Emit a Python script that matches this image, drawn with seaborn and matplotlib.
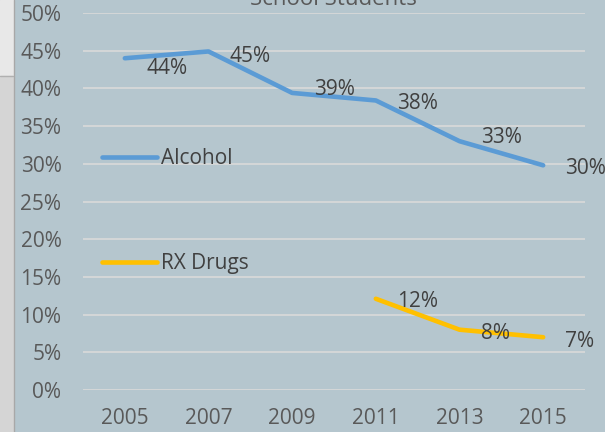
import pandas as pd
import seaborn as sns
import matplotlib.pyplot as plt
from matplotlib.lines import Line2D
from matplotlib.patches import Rectangle
from matplotlib.ticker import PercentFormatter

# values (percent)
years = [2005, 2007, 2009, 2011, 2013, 2015]
alcohol = [44.0, 44.9, 39.4, 38.4, 33.0, 29.8]
rx_years = [2011, 2013, 2015]
rx_drugs = [12.1, 8.0, 7.0]
series_names = ['Alcohol', 'RX Drugs']

# label nudges (pixels, up is positive) to match where the labels sit
alcohol_nudge = [-8, -3, 5, -1, 6, -1]
rx_nudge = [-1, -2, -2]

df = pd.concat([
    pd.DataFrame({'Year': years, 'Value': alcohol, 'Series': series_names[0]}),
    pd.DataFrame({'Year': rx_years, 'Value': rx_drugs, 'Series': series_names[1]}),
])

bg = '#b5c6ce'
colors = {'Alcohol': '#5b9bd5', 'RX Drugs': '#ffc000'}

sns.set_theme(style='whitegrid', rc={'axes.facecolor': bg, 'figure.facecolor': bg,
                                     'grid.color': '#dadada', 'grid.linewidth': 1.2})
plt.rcParams['font.family'] = ['Open Sans', 'DejaVu Sans']

fig = plt.figure(figsize=(6.05, 4.32), dpi=100)
ax = fig.add_axes([83 / 605, 1 - 390 / 432, 502 / 605, 377 / 432])

sns.lineplot(data=df, x='Year', y='Value', hue='Series', palette=colors,
             linewidth=3.3, legend=False, ax=ax, solid_capstyle='round')

ax.set_xlim(2004, 2016)
ax.set_ylim(0, 50)
ax.set_xticks(years)
ax.set_yticks(range(0, 51, 5))
ax.yaxis.set_major_formatter(PercentFormatter(decimals=0))
ax.grid(axis='x', visible=False)
ax.set_xlabel('')
ax.set_ylabel('')
for s in ax.spines.values():
    s.set_visible(False)
ax.tick_params(axis='y', length=0, pad=15.5, labelsize=15, labelcolor='#595959')
ax.tick_params(axis='x', length=0, pad=13, labelsize=15, labelcolor='#595959')

# data labels to the right of each point
cap = 7.5
for xs, ys, nudges in [(years, alcohol, alcohol_nudge), (rx_years, rx_drugs, rx_nudge)]:
    for x, y, n in zip(xs, ys, nudges):
        ax.annotate(f'{round(y):d}%', (x, y), xytext=(21.5, n - cap), textcoords='offset pixels',
                    ha='left', va='baseline', fontsize=15, color='#404040', annotation_clip=False)

# legend sitting inside the plot area
handles = [Line2D([0], [0], color=colors[n], lw=3.3, solid_capstyle='round') for n in series_names]
ax.legend(handles, series_names, loc='upper left', bbox_to_anchor=(102 / 605, 1 - 148 / 432),
          bbox_transform=fig.transFigure, frameon=False, fontsize=15, labelcolor='#404040',
          handlelength=2.65, handletextpad=0.2, labelspacing=4.05, borderpad=0, borderaxespad=0)

# clipped title at the top edge
fig.text(333 / 605, 1 - 5 / 432, 'School Students', ha='center', va='baseline',
         fontsize=16, color='#595959')

# strip of the neighbouring window on the left
fig.patches.append(Rectangle((0, 1 - 76 / 432), 13 / 605, 76 / 432, transform=fig.transFigure,
                             color='#e8e8e8', zorder=0))
fig.patches.append(Rectangle((0, 0), 13 / 605, 1 - 76 / 432, transform=fig.transFigure,
                             color='#d5d5d5', zorder=0))
fig.add_artist(Line2D([13.5 / 605, 13.5 / 605], [0, 1], transform=fig.transFigure,
                      color='#a8a8a8', lw=1))
fig.add_artist(Line2D([0, 13 / 605], [1 - 76 / 432, 1 - 76 / 432], transform=fig.transFigure,
                      color='#b0b0b0', lw=1))

fig.savefig('out.png', dpi=100, facecolor=bg)
